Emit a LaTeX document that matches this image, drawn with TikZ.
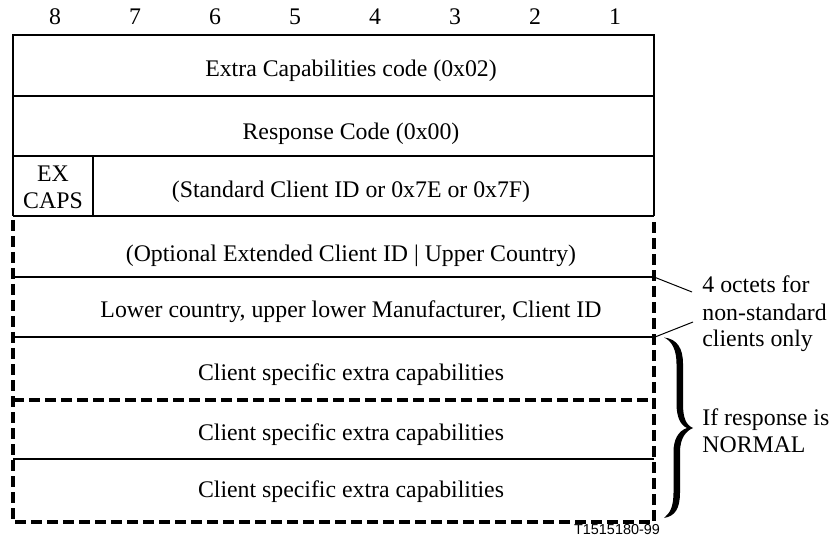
\documentclass[tikz,border=0pt]{standalone}
\usepackage{fontspec}
\setmainfont{Liberation Serif}
\newfontfamily\figsans{Liberation Sans}
\begin{document}
\begin{tikzpicture}[x=0.5pt,y=-0.5pt,
  txt/.style={font=\fontsize{11.9}{13.5}\selectfont, inner sep=0pt, anchor=base},
  sidetxt/.style={font=\fontsize{11.9}{13.5}\selectfont, inner sep=0pt, anchor=base west},
  sepline/.style={line width=0.85pt},
  thinline/.style={line width=0.55pt},
  dshline/.style={line width=1.75pt, dash pattern=on 5.5pt off 2.5pt},
  leadline/.style={line width=0.5pt}]
\useasboundingbox (0,0) rectangle (833,544);

% bit numbers
\foreach \n [count=\i from 0] in {8,7,6,5,4,3,2,1}
  \node[txt] (bit\n) at (55+80*\i,25) {\n};

% solid upper block
\draw[thinline] (13,216) -- (13,35) -- (654,35) -- (654,216);
\draw[sepline] (13,96) -- (654,96);
\draw[sepline] (13,156) -- (654,156);
\draw[sepline] (13,216) -- (654,216);
\draw[sepline] (93,156) -- (93,216);

% optional part
\draw[sepline] (13,277) -- (654,277);
\draw[sepline] (13,337) -- (654,337);
\draw[sepline] (13,459) -- (654,459);
\draw[dshline] (13,220) -- (13,522) -- (654,522) -- (654,220);
\draw[dshline] (13,400) -- (654,400);

% row texts
\node[txt] (r1) at (351,77) {Extra Capabilities code (0x02)};
\node[txt] (r2) at (351,140) {Response Code (0x00)};
\node[txt] (ex) at (53,182) {\begin{tabular}[t]{@{}c@{}}EX\\CAPS\end{tabular}};
\node[txt] (r3) at (351,198) {(Standard Client ID or 0x7E or 0x7F)};
\node[txt] (r4) at (351,262) {(Optional Extended Client ID | Upper Country)};
\node[txt] (r5) at (351,318) {Lower country, upper lower Manufacturer, Client ID};
\node[txt] (r6) at (351,380) {Client specific extra capabilities};
\node[txt] (r7) at (351,440) {Client specific extra capabilities};
\node[txt] (r8) at (351,497) {Client specific extra capabilities};

% annotation: 4 octets
\node[sidetxt] (oct) at (702,293) {\begin{tabular}[t]{@{}l@{}}4 octets for\\non-standard\\clients only\end{tabular}};
\coordinate (edgeA) at (654,277);
\coordinate (edgeB) at (655,337);
\coordinate (leadA) at (692,292);
\coordinate (leadB) at (693,322);
\draw[leadline] (edgeA) -- (leadA);
\draw[leadline] (edgeB) -- (leadB);

% brace
\fill (664,337.5)
  .. controls (677,339) and (683,348) .. (683,364)
  -- (683,404)
  .. controls (683,418) and (686,425) .. (693,428)
  .. controls (686,431) and (680,438) .. (680,452)
  -- (680,492)
  .. controls (680,509) and (675,516) .. (664,518)
  .. controls (670,513) and (673.5,507) .. (673.5,492)
  -- (673.5,452)
  .. controls (673.5,440) and (678,431) .. (687,428)
  .. controls (680,425) and (676.5,416) .. (676.5,404)
  -- (676.5,364)
  .. controls (676.5,350) and (672,341) .. (664,337.5)
  -- cycle;
\node[sidetxt] (norm) at (702,425) {\begin{tabular}[t]{@{}l@{}}If response is\\NORMAL\end{tabular}};

% figure id
\node[inner sep=0pt, anchor=base, font=\figsans\fontsize{7.2}{8}\selectfont] (fid) at (617,534) {T1515180-99};
\end{tikzpicture}
\end{document}
